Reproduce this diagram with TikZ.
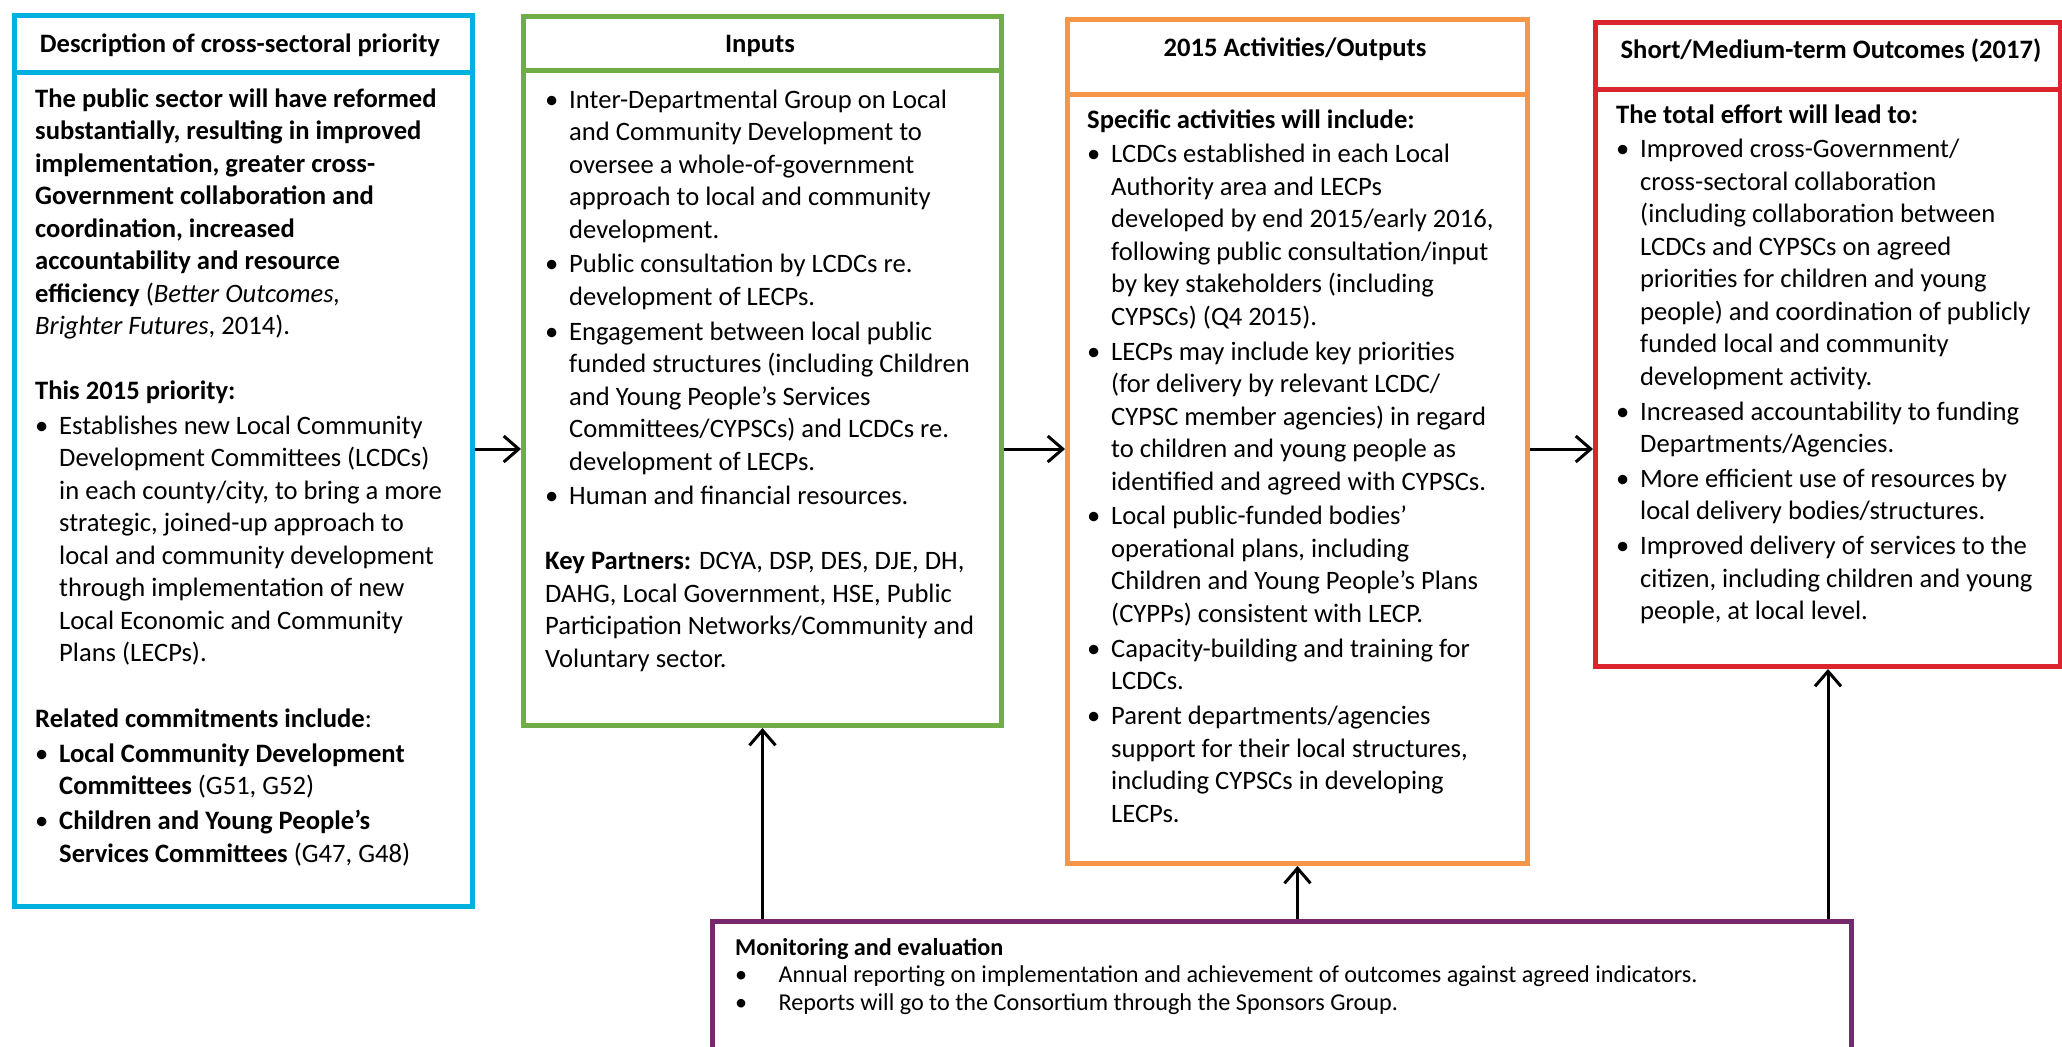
\documentclass[tikz,border=0pt]{standalone}
\usepackage{fontspec}
\setmainfont{Carlito}
\usetikzlibrary{arrows.meta}

\definecolor{descblue}{RGB}{0,176,222}
\definecolor{inpgreen}{RGB}{112,173,71}
\definecolor{actorange}{RGB}{247,150,70}
\definecolor{outred}{RGB}{218,37,45}
\definecolor{monpurple}{RGB}{120,40,108}

\newcommand{\bodyfont}{\fontsize{26.6pt}{32.5pt}\selectfont}
\newcommand{\monfont}{\fontsize{24.2pt}{27.5pt}\selectfont}
\newcommand{\itm}[1][24pt]{\par\hangindent=#1\hangafter=1\noindent\makebox[#1][l]{\textbullet}}
\newcommand{\colbox}[2]{\begin{minipage}[t]{#1}\raggedright\parskip=2.3pt #2\end{minipage}}

\tikzset{
  box/.style={draw, line width=5pt, anchor=north west, inner sep=0pt},
  ttl/.style={anchor=base, inner sep=0pt, font=\bodyfont\bfseries},
  txt/.style={anchor=base west, inner sep=0pt, font=\bodyfont},
  arr/.style={-{Straight Barb[length=15pt,width=26pt]}, line width=3pt},
}

\begin{document}
\begin{tikzpicture}[x=1pt,y=-1pt]
        \useasboundingbox (0,0) rectangle (2062,1047);
        % boxes
        \node[box, draw=descblue, minimum width=458pt, minimum height=57pt] (desc-h) at (12,13) {};
        \node[box, draw=descblue, minimum width=458pt, minimum height=834pt] (desc) at (12,70) {};
        \node[box, draw=inpgreen, minimum width=478pt, minimum height=54pt] (inp-h) at (521,14) {};
        \node[box, draw=inpgreen, minimum width=478pt, minimum height=655pt] (inp) at (521,68) {};
        \node[box, draw=actorange, minimum width=460pt, minimum height=75pt] (act-h) at (1065,17) {};
        \node[box, draw=actorange, minimum width=460pt, minimum height=769pt] (act) at (1065,92) {};
        \node[box, draw=outred, minimum width=465pt, minimum height=67pt] (out-h) at (1593,20) {};
        \node[box, draw=outred, minimum width=465pt, minimum height=577pt] (out) at (1593,87) {};
        \node[box, draw=monpurple, minimum width=1139pt, minimum height=170pt] (mon) at (710,919) {};
        % headings
        \node[ttl] (desc-t) at (240,52) {Description of cross-sectoral priority};
        \node[ttl] (inp-t) at (760,52) {Inputs};
        \node[ttl] (act-t) at (1295,56) {2015 Activities/Outputs};
        \node[ttl] (out-t) at (1831,58) {Short/Medium-term Outcomes (2017)};
        % texts
        \node[txt] (desc-x) at (35,107) {\colbox{430pt}{%
          \textbf{The public sector will have reformed}\newline
          \textbf{substantially, resulting in improved}\newline
          \textbf{implementation, greater cross-}\newline
          \textbf{Government collaboration and}\newline
          \textbf{coordination, increased}\newline
          \textbf{accountability and resource}\newline
          \textbf{efficiency} (\textit{Better Outcomes,}\newline
          \textit{Brighter Futures}, 2014).\par\vspace{30pt}
          \textbf{This 2015 priority:}
          \itm Establishes new Local Community\newline
          Development Committees (LCDCs)\newline
          in each county/city, to bring a more\newline
          strategic, joined-up approach to\newline
          local and community development\newline
          through implementation of new\newline
          Local Economic and Community\newline
          Plans (LECPs).\par\vspace{31pt}
          \textbf{Related commitments include}:
          \itm \textbf{Local Community Development}\newline
          \textbf{Committees} (G51, G52)
          \itm \textbf{Children and Young People’s}\newline
          \textbf{Services Committees} (G47, G48)}};
        \node[txt] (inp-x) at (545,108) {\colbox{450pt}{%
          \itm Inter-Departmental Group on Local\newline
          and Community Development to\newline
          oversee a whole-of-government\newline
          approach to local and community\newline
          development.
          \itm Public consultation by LCDCs re.\newline
          development of LECPs.
          \itm Engagement between local public\newline
          funded structures (including Children\newline
          and Young People’s Services\newline
          Committees/CYPSCs) and LCDCs re.\newline
          development of LECPs.
          \itm Human and financial resources.\par\vspace{30pt}
          \textbf{Key Partners:} DCYA, DSP, DES, DJE, DH,\newline
          DAHG, Local Government, HSE, Public\newline
          Participation Networks/Community and\newline
          Voluntary sector.}};
        \node[txt] (act-x) at (1087,128) {\colbox{430pt}{%
          \textbf{Specific activities will include:}
          \itm LCDCs established in each Local\newline
          Authority area and LECPs\newline
          developed by end 2015/early 2016,\newline
          following public consultation/input\newline
          by key stakeholders (including\newline
          CYPSCs) (Q4 2015).
          \itm LECPs may include key priorities\newline
          (for delivery by relevant LCDC/\newline
          CYPSC member agencies) in regard\newline
          to children and young people as\newline
          identified and agreed with CYPSCs.
          \itm Local public-funded bodies’\newline
          operational plans, including\newline
          Children and Young People’s Plans\newline
          (CYPPs) consistent with LECP.
          \itm Capacity-building and training for\newline
          LCDCs.
          \itm Parent departments/agencies\newline
          support for their local structures,\newline
          including CYPSCs in developing\newline
          LECPs.}};
        \node[txt] (out-x) at (1616,123) {\colbox{440pt}{%
          \textbf{The total effort will lead to:}
          \itm Improved cross-Government/\newline
          cross-sectoral collaboration\newline
          (including collaboration between\newline
          LCDCs and CYPSCs on agreed\newline
          priorities for children and young\newline
          people) and coordination of publicly\newline
          funded local and community\newline
          development activity.
          \itm Increased accountability to funding\newline
          Departments/Agencies.
          \itm More efficient use of resources by\newline
          local delivery bodies/structures.
          \itm Improved delivery of services to the\newline
          citizen, including children and young\newline
          people, at local level.}};
        \node[txt, font=\monfont] (mon-x) at (735,955) {\colbox{1100pt}{\parskip=0pt
          \textbf{Monitoring and evaluation}
          \itm[38pt] Annual reporting on implementation and achievement of outcomes against agreed indicators.
          \itm[38pt] Reports will go to the Consortium through the Sponsors Group.}};
        % arrows
        \coordinate (flow) at (0,449);
        \draw[arr] (desc.east |- flow) -- (inp.west |- flow);
        \draw[arr] (inp.east |- flow) -- (act.west |- flow);
        \draw[arr] (act.east |- flow) -- (out.west |- flow);
        \draw[arr] (mon.north -| inp.south) -- (inp.south);
        \draw[arr] (mon.north -| act.south) -- (act.south);
        \draw[arr] (mon.north -| out.south) -- (out.south);
\end{tikzpicture}
\end{document}
